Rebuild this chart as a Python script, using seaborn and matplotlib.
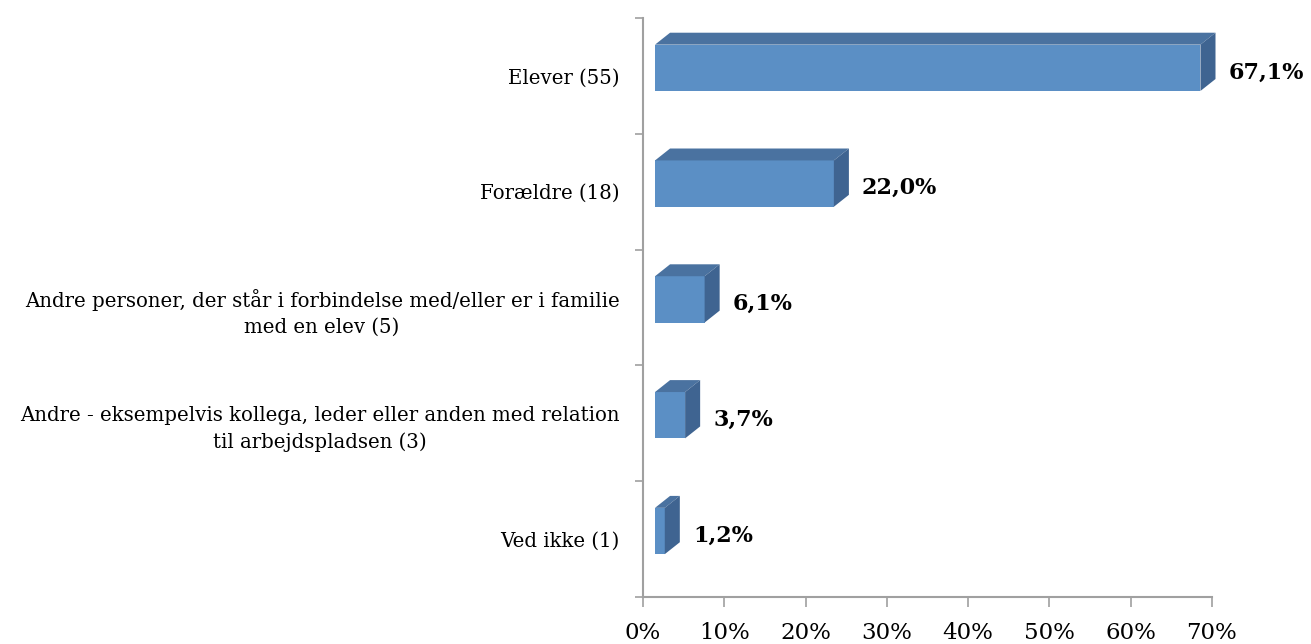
import pandas as pd
import seaborn as sns
import matplotlib.pyplot as plt
from matplotlib.patches import Polygon

categories = ['Elever (55)', 'Forældre (18)',
              'Andre personer, der står i forbindelse med/eller er i familie\nmed en elev (5)',
              'Andre - eksempelvis kollega, leder eller anden med relation\ntil arbejdspladsen (3)',
              'Ved ikke (1)']
values = [67.1, 22.0, 6.1, 3.7, 1.2]
value_labels = ['67,1%', '22,0%', '6,1%', '3,7%', '1,2%']

df = pd.DataFrame({'kategori': categories, 'andel': values})

sns.set_style('white')
plt.rcParams['font.family'] = ['DejaVu Serif']
plt.rcParams['text.color'] = 'black'

fig = plt.figure(figsize=(13.11, 6.44), dpi=100)
ax = fig.add_axes([643 / 1311, 47 / 644, 569 / 1311, 579 / 644])

front = '#5b8fc5'
top = '#4a72a0'
side = '#3f6491'
sns.barplot(data=df, x='andel', y='kategori', orient='h', width=0.4,
            color=front, saturation=1, ax=ax)

x_off = 1.48   # bars sit slightly in front of the back wall
dx, dy = 1.85, 0.103
for p, v, lab in zip(ax.patches, values, value_labels):
    p.set_x(x_off)
    p.set_y(p.get_y() - 0.07)
    p.set_edgecolor('none')
    x0 = x_off
    x1 = x_off + v
    yt = p.get_y()
    yb = yt + p.get_height()
    ax.add_patch(Polygon([(x0, yt), (x1, yt), (x1 + dx, yt - dy), (x0 + dx, yt - dy)],
                         closed=True, facecolor=top, edgecolor='none', clip_on=False))
    ax.add_patch(Polygon([(x1, yt), (x1 + dx, yt - dy), (x1 + dx, yb - dy), (x1, yb)],
                         closed=True, facecolor=side, edgecolor='none', clip_on=False))
    ax.text(x1 + dx + 1.6, (yt + yb) / 2 + 0.04, lab, ha='left', va='center',
            fontsize=16, fontweight='bold', color='black')

ax.set_xlim(0, 70)
ax.set_ylim(4.5, -0.5)
ax.set_xticks(range(0, 71, 10))
ax.set_xticklabels([f'{t}%' for t in range(0, 71, 10)], fontsize=16.5, color='black')
ax.set_yticks([i + 0.5 for i in range(-1, 5)], minor=False)
ax.set_yticklabels([])
ax.set_yticks(range(5), minor=True)
ax.set_yticklabels(categories, minor=True, fontsize=14.2, multialignment='center',
                   linespacing=1.45, color='black')
ax.tick_params(axis='y', which='minor', length=0, pad=17)
ax.tick_params(axis='y', which='major', length=6, width=1.2, color='#a0a0a0', direction='out', left=True)
ax.tick_params(axis='x', length=7, width=1.2, color='#a0a0a0', direction='out', bottom=True, pad=11)
ax.set_xlabel('')
ax.set_ylabel('')

for s in ['top', 'right']:
    ax.spines[s].set_visible(False)
for s in ['left', 'bottom']:
    ax.spines[s].set_color('#a0a0a0')
    ax.spines[s].set_linewidth(1.5)

fig.savefig('out.png', dpi=100)
